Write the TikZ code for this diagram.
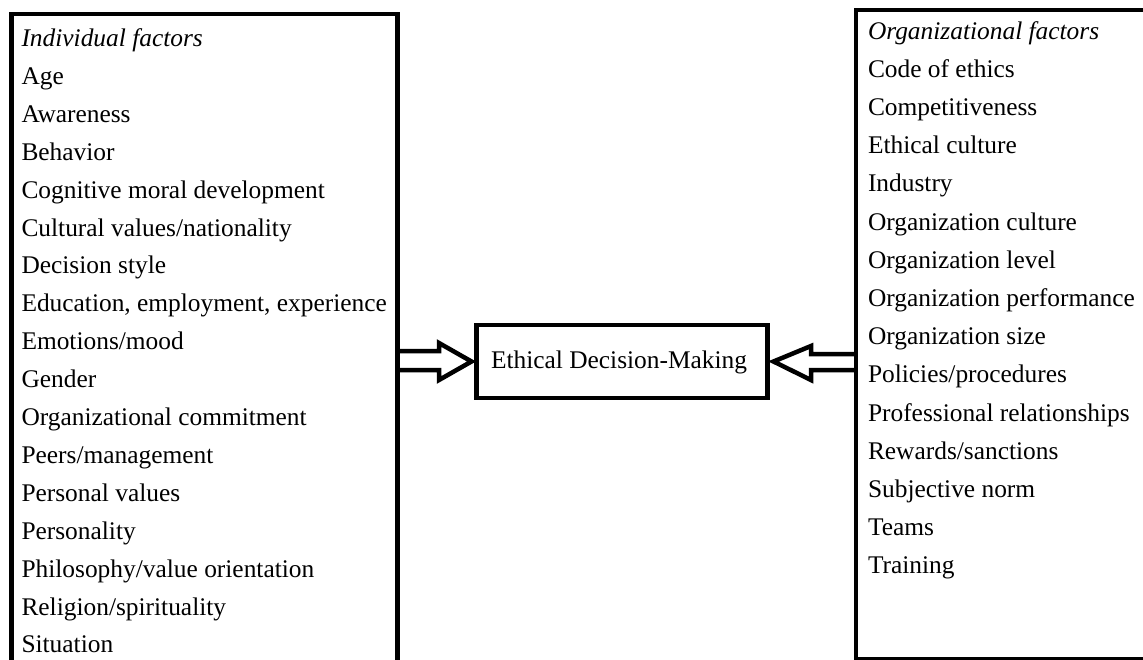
\documentclass[tikz,border=0pt]{standalone}
\usepackage{fontspec}
\setmainfont{Liberation Serif}
\begin{document}
\begin{tikzpicture}[x=1pt,y=-1pt,
  frame/.style={draw=black, line width=4.5pt, inner sep=0pt, outer sep=0pt},
  item/.style={anchor=base west, inner sep=0pt, outer sep=0pt, text=black,
    font=\fontsize{25.4}{30}\selectfont},
  blockarrow/.style={draw=black, line width=4.5pt, line join=miter}
]
\useasboundingbox (0,0) rectangle (1143,659);
\clip (0,0) rectangle (1143,659);
\fill[white] (0,0) rectangle (1143,659);

% the two factor boxes run past the lower and right edges
\node[frame, anchor=north west, minimum width=386pt, minimum height=700pt] (lbox) at (11.5,14) {};
\node[frame, anchor=north west, minimum width=320pt, minimum height=649.5pt] (rbox) at (856,10) {};

% central box
\node[frame, minimum width=291pt, minimum height=73pt] (edm) at (622,361.5) {};
\node[item] (edmtext) at (491,368.5) {Ethical Decision-Making};

% individual factors
\foreach \t [count=\i] in {{\itshape Individual factors}, Age, Awareness, Behavior,
  Cognitive moral development, Cultural values/nationality, Decision style,
  {Education, employment, experience}, Emotions/mood, Gender,
  Organizational commitment, Peers/management, Personal values, Personality,
  Philosophy/value orientation, Religion/spirituality, Situation}
  \node[item] (ind\i) at (21.5, {46.5+(\i-1)*37.9}) {\t};

% organizational factors
\foreach \t [count=\i] in {{\itshape Organizational factors}, Code of ethics,
  Competitiveness, Ethical culture, Industry, Organization culture,
  Organization level, Organization performance, Organization size,
  Policies/procedures, Professional relationships, Rewards/sanctions,
  Subjective norm, Teams, Training}
  \node[item] (org\i) at (868, {39+(\i-1)*38.2}) {\t};

% hollow block arrows into the central box
\coordinate (la) at (0,351);
\coordinate (lb) at (0,370);
\coordinate (ra) at (0,354);
\coordinate (rb) at (0,370);
\draw[blockarrow] (lbox.east |- la) -- (439,351) -- (439,343) -- ([xshift=-5pt]edm.west)
  -- (439,380) -- (439,370) -- (lbox.east |- lb);
\draw[blockarrow] (rbox.west |- ra) -- (811,354) -- (811,346) -- ([xshift=6pt]edm.east)
  -- (811,380) -- (811,370) -- (rbox.west |- rb);
\end{tikzpicture}
\end{document}
